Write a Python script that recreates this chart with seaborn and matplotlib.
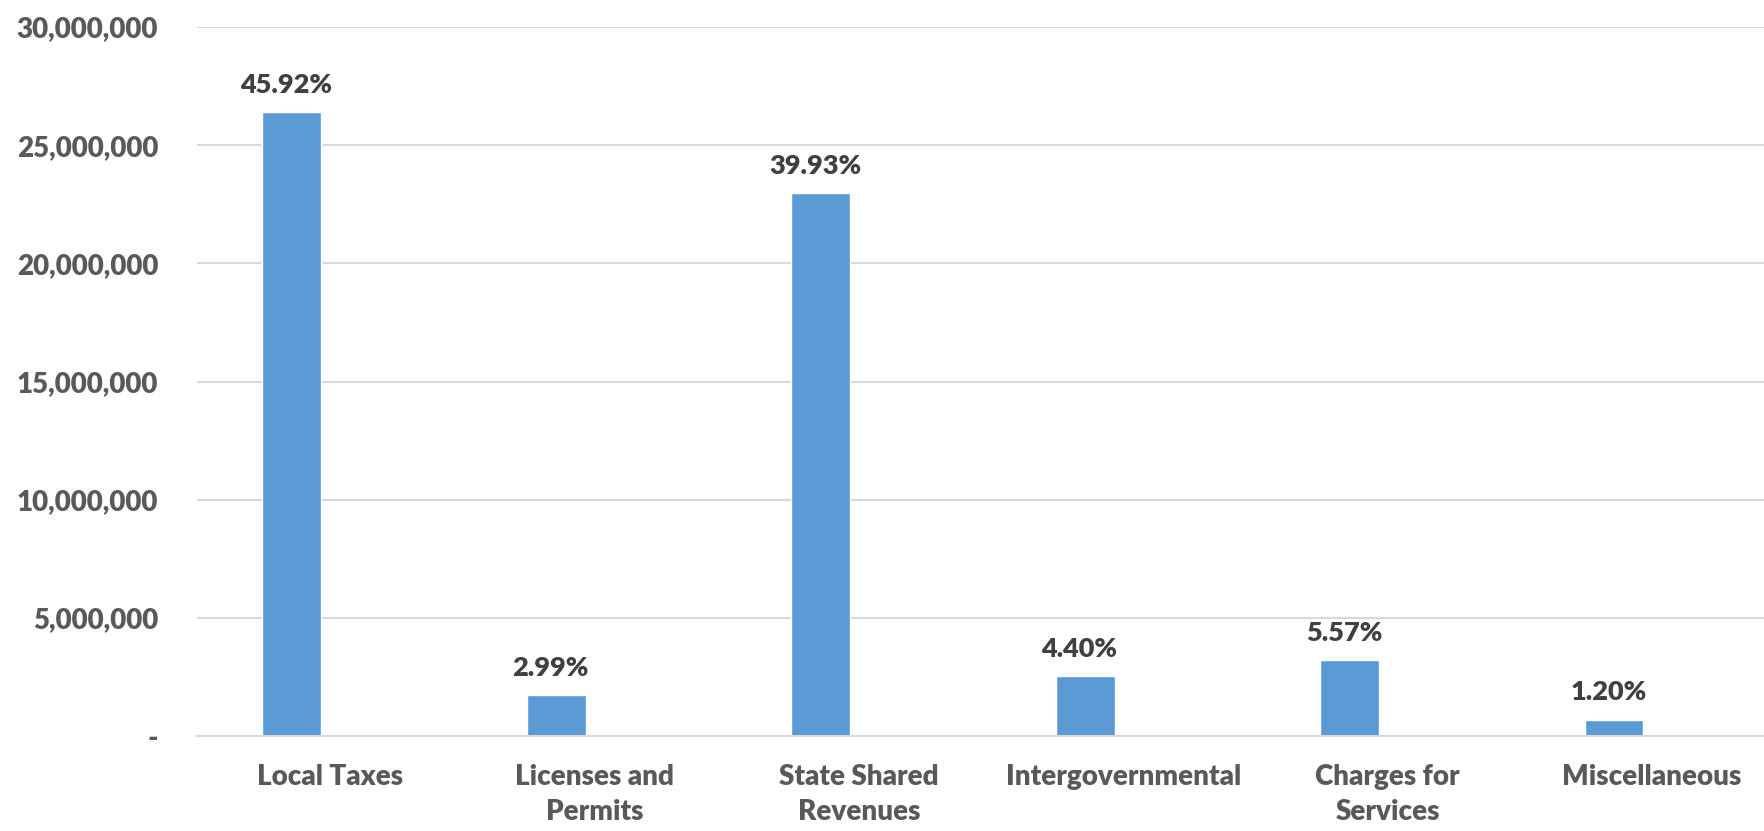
import matplotlib
matplotlib.use("Agg")
import matplotlib.pyplot as plt
import numpy as np
import pandas as pd
import seaborn as sns
from matplotlib.ticker import FuncFormatter

categories = [
    "Local Taxes",
    "Licenses and\nPermits",
    "State Shared\nRevenues",
    "Intergovernmental",
    "Charges for\nServices",
    "Miscellaneous",
]
revenue = [26400000, 1720000, 22960000, 2530000, 3200000, 690000]
share_labels = ["45.92%", "2.99%", "39.93%", "4.40%", "5.57%", "1.20%"]
y_ticks = [0, 5000000, 10000000, 15000000, 20000000, 25000000, 30000000]


def main():
    sns.set_theme(style="whitegrid")
    plt.rcParams["font.family"] = ["Lato", "DejaVu Sans"]

    df = pd.DataFrame({"category": categories, "revenue": revenue})

    fig = plt.figure(figsize=(17.65, 8.31), dpi=100, facecolor="w")
    ax = fig.add_axes([0.1116, 0.1143, 0.8884, 0.8532])
    sns.barplot(
        data=df, x="category", y="revenue", color="#5B9BD5",
        saturation=1, width=0.223, ax=ax,
    )

    for patch, label in zip(ax.patches, share_labels):
        ax.annotate(
            label,
            (patch.get_x() + patch.get_width() / 2, patch.get_height()),
            xytext=(-4, 11), textcoords="offset points",
            ha="center", va="bottom", fontsize=19.5,
            fontweight="heavy", color="#404040",
        )

    # category labels sit a little right of the bars (empty second series in the original)
    ax.set_xticks(np.arange(len(categories)) + 0.144)
    ax.set_xticklabels(categories, fontsize=20, fontweight="heavy",
                       color="#595959", linespacing=1.45)
    ax.set_xlim(-0.359, 5.571)

    ax.set_ylim(0, 30000000)
    ax.set_yticks(y_ticks)
    ax.yaxis.set_major_formatter(
        FuncFormatter(lambda v, _: "-" if v == 0 else f"{v:,.0f}")
    )
    for lab in ax.get_yticklabels():
        lab.set_fontsize(20)
        lab.set_fontweight("heavy")
        lab.set_color("#595959")

    ax.set(xlabel="", ylabel="")
    ax.grid(axis="x", visible=False)
    ax.grid(axis="y", color="#D9D9D9", linewidth=1.5)
    ax.tick_params(axis="y", pad=28, length=0)
    ax.tick_params(axis="x", pad=20, length=0)
    for side in ["left", "right", "top"]:
        ax.spines[side].set_visible(False)
    ax.spines["bottom"].set_color("#D9D9D9")
    ax.spines["bottom"].set_linewidth(1.5)

    plt.savefig("out.png", dpi=100, facecolor="w")


if __name__ == "__main__":
    main()
